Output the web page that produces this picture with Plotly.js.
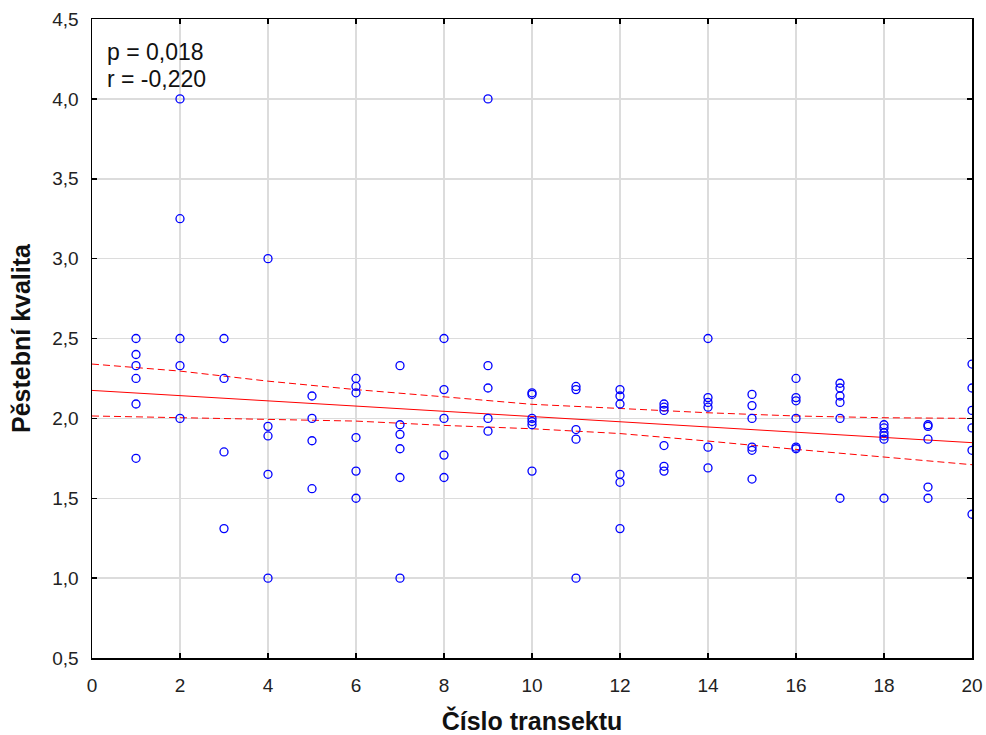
<!DOCTYPE html>
<html>
<head>
<meta charset="utf-8">
<script src="https://cdn.plot.ly/plotly-3.0.1.min.js"></script>
<style>html,body{margin:0;padding:0;background:#fff;}#chart{width:986px;height:735px;}</style>
</head>
<body>
<div id="chart"></div>
<script>
// Scatter data: transect number and cultivation quality
const transect = [
  1,1,1,1,1,1,
  2,2,2,2,2,
  3,3,3,3,
  4,4,4,4,4,
  5,5,5,5,
  6,6,6,6,6,6,
  7,7,7,7,7,7,
  8,8,8,8,8,
  9,9,9,9,9,
  10,10,10,10,10,10,
  11,11,11,11,11,
  12,12,12,12,12,12,
  13,13,13,13,13,13,
  14,14,14,14,14,14,
  15,15,15,15,15,15,
  16,16,16,16,16,16,
  17,17,17,17,17,17,
  18,18,18,18,18,18,
  19,19,19,19,19,
  20,20,20,20,20,20
];
const kvalita = [
  2.5,2.4,2.33,2.25,2.09,1.75,
  4.0,3.25,2.5,2.33,2.0,
  2.5,2.25,1.79,1.31,
  3.0,1.95,1.89,1.65,1.0,
  2.14,2.0,1.86,1.56,
  2.25,2.2,2.16,1.88,1.67,1.5,
  2.33,1.96,1.9,1.81,1.63,1.0,
  2.5,2.18,2.0,1.77,1.63,
  4.0,2.33,2.19,2.0,1.92,
  2.16,2.15,2.0,1.98,1.96,1.67,
  2.2,2.18,1.93,1.87,1.0,
  2.18,2.14,2.09,1.65,1.6,1.31,
  2.09,2.07,2.05,1.83,1.7,1.67,
  2.5,2.13,2.1,2.07,1.82,1.69,
  2.15,2.08,2.0,1.82,1.8,1.62,
  2.25,2.13,2.11,2.0,1.82,1.81,
  2.22,2.19,2.14,2.1,2.0,1.5,
  1.96,1.94,1.91,1.89,1.87,1.5,
  1.96,1.95,1.87,1.57,1.5,
  2.34,2.19,2.05,1.94,1.8,1.4
];
// Regression line
const fitX = [0, 20];
const fitY = [2.175, 1.848];
// 95% confidence bands
const bandX = [0, 2, 4, 6, 8, 10, 12, 14, 16, 18, 20];
const bandUpper = [2.34, 2.296, 2.233, 2.18, 2.135, 2.088, 2.062, 2.035, 2.015, 2.004, 2.0];
const bandLower = [2.015, 2.004, 1.994, 1.983, 1.956, 1.935, 1.905, 1.858, 1.806, 1.76, 1.71];
// Axis ticks
const xTicks = [0,2,4,6,8,10,12,14,16,18,20];
const yTicks = [0.5,1.0,1.5,2.0,2.5,3.0,3.5,4.0,4.5];
const statLines = ["p = 0,018", "r = -0,220"];

const FONT = "Liberation Sans, Arial, sans-serif";

const traces = [
  {x: bandX, y: bandUpper, mode: 'lines', type: 'scatter', line: {color: '#ff0000', width: 1, dash: '7px,4px'}, hoverinfo: 'skip'},
  {x: bandX, y: bandLower, mode: 'lines', type: 'scatter', line: {color: '#ff0000', width: 1, dash: '7px,4px'}, hoverinfo: 'skip'},
  {x: fitX, y: fitY, mode: 'lines', type: 'scatter', line: {color: '#ff0000', width: 1}},
  {x: transect, y: kvalita, mode: 'markers', type: 'scatter', cliponaxis: true,
   marker: {symbol: 'circle-open', size: 8, color: '#0000ff', line: {width: 1.3, color: '#0000ff'}}}
];

const axisCommon = {
  showline: true, linecolor: '#000', linewidth: 1.5, mirror: 'ticks',
  ticks: 'inside', ticklen: 5, tickcolor: '#000', tickwidth: 1.5,
  showgrid: true, gridcolor: '#dcdcdc', gridwidth: 1.5,
  zeroline: false, automargin: false,
  tickfont: {family: FONT, size: 19, color: '#222'}
};

const layout = {
  width: 986, height: 735,
  margin: {l: 92, r: 14, t: 19, b: 77},
  paper_bgcolor: '#fff', plot_bgcolor: '#fff',
  showlegend: false,
  separators: ', ',
  xaxis: Object.assign({}, axisCommon, {
    range: [0, 20], tickvals: xTicks, ticktext: xTicks.map(String),
    ticklabelstandoff: 10,
    title: {text: 'Číslo transektu', font: {family: FONT, size: 25, color: '#111', weight: 'bold'}, standoff: 18}
  }),
  yaxis: Object.assign({}, axisCommon, {
    range: [0.5, 4.5], tickvals: yTicks, ticktext: yTicks.map(v => v.toFixed(1).replace('.', ',')),
    ticklabelstandoff: 8,
    title: {text: 'Pěstební kvalita', font: {family: FONT, size: 25, color: '#111', weight: 'bold'}, standoff: 14}
  }),
  annotations: statLines.map((t, i) => ({
    text: t, xref: 'paper', yref: 'paper', x: 13 / 880, y: 1 - (33 + i * 27) / 639,
    xanchor: 'left', yanchor: 'middle', showarrow: false,
    font: {family: FONT, size: 23, color: '#111'}
  }))
};

Plotly.newPlot('chart', traces, layout, {staticPlot: true, displayModeBar: false});
</script>
</body>
</html>
